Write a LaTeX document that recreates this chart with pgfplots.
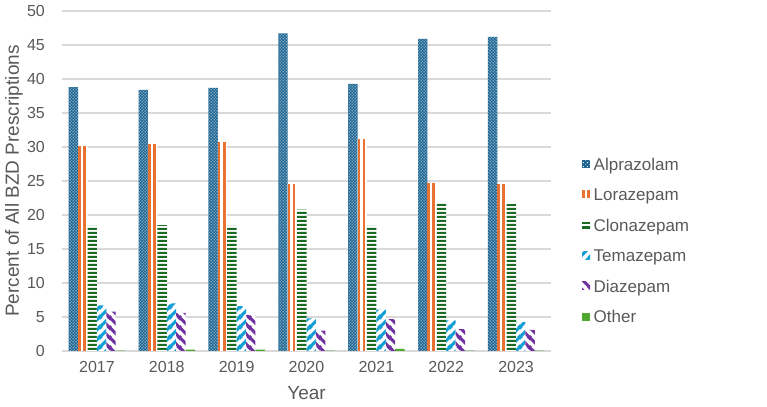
\documentclass[border=0pt]{standalone}
\usepackage{fontspec}
\setmainfont{Liberation Sans}
\usepackage{pgfplots}
\usepackage{pgfplotstable}
\pgfplotsset{compat=1.18}
\usetikzlibrary{patterns.meta}

% Office-style series colours
\definecolor{alpblue}{HTML}{1A6391}
\definecolor{lororange}{HTML}{E97132}
\definecolor{clongreen}{HTML}{196B24}
\definecolor{temablue}{HTML}{0F9ED5}
\definecolor{diazpurple}{HTML}{7030A0}
\definecolor{othergreen}{HTML}{4EA72E}
\definecolor{textgray}{HTML}{595959}
\definecolor{gridgray}{HTML}{D9D9D9}

% Fill patterns for the bars
\tikzdeclarepattern{
  name=smalldots, type=uncolored,
  bottom left={(0bp,0bp)}, top right={(3.4bp,3.4bp)},
  tile size={(3.4bp,3.4bp)},
  code={
    \fill (0.35bp,0.35bp) rectangle (1.35bp,1.35bp);
    \fill (2.05bp,2.05bp) rectangle (3.05bp,3.05bp);
  }
}
\tikzdeclarepattern{
  name=hstripes, type=uncolored,
  bottom left={(0bp,0bp)}, top right={(50bp,4.46bp)},
  tile size={(50bp,4.46bp)},
  code={\fill (-1bp,0bp) rectangle (51bp,2.3bp);}
}
\tikzdeclarepattern{
  name=updiag, type=uncolored,
  bottom left={(0bp,0bp)}, top right={(10bp,10bp)},
  tile size={(10bp,10bp)},
  code={
    \draw[line width=3.2bp] (-2bp,-2bp) -- (12bp,12bp);
    \draw[line width=3.2bp] (-2bp,8bp) -- (2bp,12bp);
    \draw[line width=3.2bp] (8bp,-2bp) -- (12bp,2bp);
  }
}
\tikzdeclarepattern{
  name=downdiag, type=uncolored,
  bottom left={(0bp,0bp)}, top right={(10bp,10bp)},
  tile size={(10bp,10bp)},
  code={
    \draw[line width=3.2bp] (-2bp,12bp) -- (12bp,-2bp);
    \draw[line width=3.2bp] (-2bp,2bp) -- (2bp,-2bp);
    \draw[line width=3.2bp] (8bp,12bp) -- (12bp,8bp);
  }
}

% Share of all benzodiazepine prescriptions (%), by year
\pgfplotstableread{
idx year Alprazolam Lorazepam Clonazepam Temazepam Diazepam Other
0   2017 38.8       30.2      18.4       6.7       5.8      0.05
1   2018 38.4       30.4      18.5       7.0       5.6      0.2
2   2019 38.7       30.8      18.4       6.6       5.3      0.2
3   2020 46.7       24.5      20.8       4.8       3.0      0.05
4   2021 39.3       31.2      18.4       6.1       4.7      0.3
5   2022 45.9       24.7      21.7       4.5       3.2      0.05
6   2023 46.2       24.5      21.6       4.3       3.1      0.05
}\bzdtable

\begin{document}
\begin{tikzpicture}
\useasboundingbox (0,0) rectangle (767bp,407bp);
\begin{axis}[
  at={(62bp,56bp)}, anchor=south west,
  scale only axis, width=489bp, height=340bp,
  xmin=-0.5, xmax=6.5, ymin=0, ymax=50,
  ybar=0pt, bar width=9.4bp,
  xtick={0,...,6},
  xticklabels={2017,2018,2019,2020,2021,2022,2023},
  ytick={0,5,...,50},
  axis line style={draw=none},
  tick style={draw=none},
  major tick length=0pt,
  ymajorgrids,
  grid style={gridgray, line width=1.3bp},
  /pgf/number format/assume math mode=true,
  tick label style={font=\fontsize{16bp}{19bp}\selectfont, text=textgray},
  yticklabel style={inner sep=0pt, anchor=east, xshift=-17bp},
  xticklabel style={inner sep=0pt, anchor=base, yshift=-21bp},
  xlabel={Year},
  ylabel={Percent of All BZD Prescriptions},
  label style={font=\fontsize{19bp}{22bp}\selectfont, text=textgray, inner sep=0pt},
  xlabel style={at={(axis description cs:0.5,-0.1235)}, anchor=center},
  ylabel style={at={(axis description cs:-0.098,0.5)}, anchor=center},
  legend style={
    at={(axis description cs:1,0.326)}, anchor=west, xshift=31bp,
    draw=none, fill=none, inner sep=0pt,
    font=\fontsize{17bp}{20.4bp}\selectfont, text=textgray,
    row sep=10.8bp, column sep=1.5bp,
  },
  legend cell align=left,
  legend image code/.code={
    \draw[#1, draw=none] (0bp,-4bp) rectangle (8bp,4bp);
  },
]
\addplot[draw=none, fill=alpblue,
  postaction={pattern=smalldots, pattern color=white}]
  table[x=idx, y=Alprazolam] {\bzdtable};
\addlegendentry{\strut Alprazolam}
% Lorazepam: white bar body, its two orange stripes are added below
\addplot[draw=none, fill=white,
  legend image code/.code={
    \fill[lororange] (0bp,-4bp) rectangle (2.7bp,4bp);
    \fill[lororange] (4.6bp,-4bp) rectangle (7.3bp,4bp);
  }]
  table[x=idx, y=Lorazepam] {\bzdtable};
\addlegendentry{\strut Lorazepam}
\addplot[draw=none, fill=white,
  postaction={pattern=hstripes, pattern color=clongreen}]
  table[x=idx, y=Clonazepam] {\bzdtable};
\addlegendentry{\strut Clonazepam}
\addplot[draw=none, fill=white,
  postaction={pattern=updiag, pattern color=temablue}]
  table[x=idx, y=Temazepam] {\bzdtable};
\addlegendentry{\strut Temazepam}
\addplot[draw=none, fill=white,
  postaction={pattern=downdiag, pattern color=diazpurple}]
  table[x=idx, y=Diazepam] {\bzdtable};
\addlegendentry{\strut Diazepam}
\addplot[draw=none, fill=othergreen]
  table[x=idx, y=Other] {\bzdtable};
\addlegendentry{\strut Other}
% the two vertical stripes of each Lorazepam bar
\addplot[ycomb, forget plot, draw=lororange, line width=2.7bp, mark=none]
  table[x expr=\thisrow{idx}-0.2505, y=Lorazepam] {\bzdtable};
\addplot[ycomb, forget plot, draw=lororange, line width=2.7bp, mark=none]
  table[x expr=\thisrow{idx}-0.1775, y=Lorazepam] {\bzdtable};
\end{axis}
\end{tikzpicture}
\end{document}
